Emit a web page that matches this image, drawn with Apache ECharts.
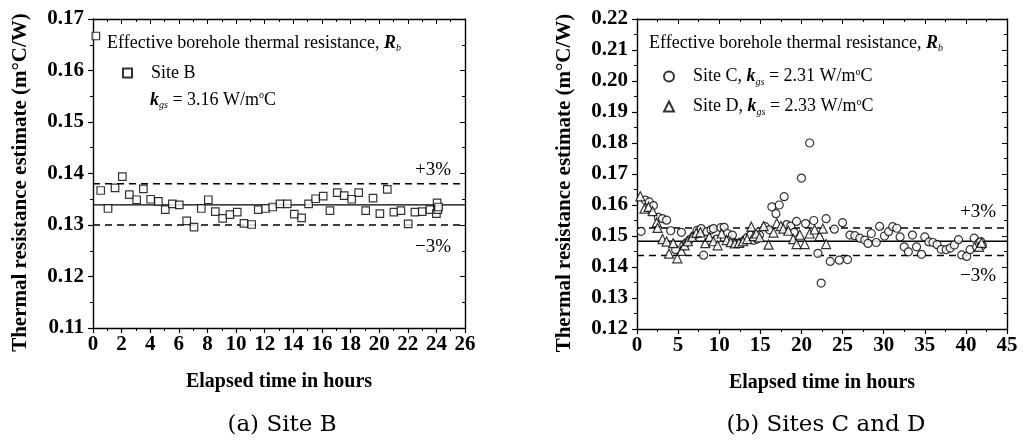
<!DOCTYPE html>
<html><head><meta charset="utf-8">
<script src="https://cdn.jsdelivr.net/npm/echarts@6/dist/echarts.min.js"></script>
<style>html,body{margin:0;padding:0;background:#fff}#c{width:1025px;height:441px}</style>
</head><body><div id="c"></div>
<script>
// ---- Data: panel (a) Site B ----
const bTime = [0.2,0.54,1.05,1.54,2.05,2.54,3.05,3.52,4.03,4.57,5.05,5.55,6.03,6.55,7.06,7.57,8.06,8.55,9.06,9.57,10.08,10.55,11.09,11.55,12.07,12.56,13.07,13.58,14.07,14.58,15.07,15.56,16.09,16.56,17.07,17.56,18.08,18.57,19.06,19.57,20.05,20.57,21.03,21.52,22.03,22.5,23.01,23.55,24.0,24.05,24.1,24.15];
const bRes  = [0.1667,0.1367,0.1332,0.1372,0.1394,0.1359,0.1349,0.1370,0.1350,0.1346,0.1330,0.1341,0.1339,0.1308,0.1296,0.1332,0.1349,0.1326,0.1313,0.1320,0.1325,0.1303,0.1301,0.1330,0.1332,0.1335,0.1341,0.1341,0.1321,0.1314,0.1341,0.1351,0.1356,0.1328,0.1363,0.1357,0.1350,0.1363,0.1328,0.1352,0.1322,0.1369,0.1325,0.1328,0.1302,0.1325,0.1326,0.1330,0.1322,0.1343,0.1330,0.1335];
const bRef = {mean:0.1339, plus:0.1380, minus:0.1300};

// ---- Data: panel (b) Site C ----
const cTime = [0.5,1.0,1.5,2.0,2.6,3.1,3.6,4.1,4.7,5.4,5.7,6.0,6.4,6.9,7.3,7.8,8.1,8.5,9.0,9.3,9.7,10.2,10.6,11.0,11.3,11.6,11.9,12.2,12.5,12.8,13.1,13.4,13.8,14.2,14.6,14.9,15.6,16.1,16.4,16.9,17.3,17.9,18.2,18.7,19.1,19.4,20.0,20.5,21.0,21.5,22.0,22.4,23.0,23.5,24.0,24.6,25.0,25.6,25.9,26.5,27.1,27.7,28.1,28.5,29.1,29.5,30.1,30.6,31.1,31.6,32.0,32.5,33.0,33.5,34.0,34.6,35.0,35.5,36.0,36.5,37.0,37.6,38.1,38.6,39.1,39.5,40.1,40.5,41.0,41.3,41.6,41.8,42.0];
const cRes  = [0.1515,0.1616,0.1610,0.1598,0.1560,0.1556,0.1551,0.1517,0.1456,0.1512,0.1470,0.1478,0.1488,0.1500,0.1518,0.1524,0.1438,0.1514,0.1520,0.1524,0.1490,0.1527,0.1528,0.1508,0.1488,0.1503,0.1478,0.1475,0.1477,0.1480,0.1487,0.1495,0.1503,0.1486,0.1490,0.1503,0.1530,0.1520,0.1594,0.1572,0.1600,0.1627,0.1537,0.1532,0.1512,0.1547,0.1687,0.1540,0.1800,0.1550,0.1444,0.1348,0.1556,0.1418,0.1522,0.1422,0.1543,0.1424,0.1503,0.1501,0.1493,0.1487,0.1476,0.1508,0.1479,0.1531,0.1500,0.1514,0.1530,0.1525,0.1497,0.1465,0.1449,0.1503,0.1465,0.1441,0.1497,0.1481,0.1479,0.1472,0.1457,0.1456,0.1461,0.1471,0.1488,0.1439,0.1434,0.1456,0.1493,0.1465,0.1478,0.1482,0.1470];

// ---- Data: panel (b) Site D ----
const dTime = [0.4,0.9,1.4,1.9,2.4,2.5,3.1,3.6,3.9,4.4,4.9,5.4,5.8,6.2,6.7,7.2,7.7,8.3,8.8,9.3,9.8,10.3,10.9,11.4,11.9,12.4,12.9,13.4,13.9,14.2,14.5,14.9,15.4,16.0,16.6,17.0,17.5,17.8,18.4,19.0,19.4,19.8,20.4,21.0,21.6,22.2,22.6,23.0,41.6,41.9];
const dRes  = [0.1628,0.1588,0.1594,0.1580,0.1544,0.1526,0.1490,0.1482,0.1443,0.1477,0.1428,0.1452,0.1470,0.1483,0.1497,0.1510,0.1512,0.1477,0.1497,0.1483,0.1470,0.1508,0.1487,0.1480,0.1476,0.1478,0.1483,0.1490,0.1530,0.1500,0.1508,0.1496,0.1532,0.1472,0.1511,0.1541,0.1532,0.1524,0.1517,0.1490,0.1474,0.1504,0.1474,0.1508,0.1521,0.1500,0.1524,0.1474,0.1465,0.1478];
const cdRef = {mean:0.1483, plus:0.1526, minus:0.1437};

const xRangeA = [0, 26, 2];
const yRangeA = [0.11, 0.17, 0.01];
const xRangeB = [0, 45, 5];
const yRangeB = [0.12, 0.22, 0.01];

const F = 'Liberation Serif, Times New Roman, serif';
const zip = (a, b) => a.map((v, i) => [v, b[i]]);

function xAxes(grid, r) {
  const base = {gridIndex: grid, min: r[0], max: r[1], interval: r[2], splitLine:{show:false},
    axisLine:{onZero:false, lineStyle:{color:'#000', width:1.4}},
    minorTick:{show:true, splitNumber:2, length:3, lineStyle:{color:'#000'}}};
  return [
    Object.assign({}, base, {position:'bottom', axisTick:{length:5, lineStyle:{color:'#000', width:1.2}},
      axisLabel:{color:'#000', fontSize:21, fontWeight:'bold', fontFamily:F, margin:6},
      name:'Elapsed time in hours', nameLocation:'middle', nameGap:44,
      nameTextStyle:{color:'#000', fontSize:20, fontWeight:'bold', fontFamily:F}}),
    Object.assign({}, base, {position:'top', axisTick:{inside:true, length:5, lineStyle:{color:'#000'}},
      axisLabel:{show:false}})
  ];
}
function yAxes(grid, r) {
  const base = {gridIndex: grid, min: r[0], max: r[1], interval: r[2], splitLine:{show:false},
    axisLine:{show:true, onZero:false, lineStyle:{color:'#000', width:1.4}},
    minorTick:{show:true, splitNumber:2, length:3, lineStyle:{color:'#000'}}};
  return [
    Object.assign({}, base, {position:'left', axisTick:{length:5, lineStyle:{color:'#000', width:1.2}},
      axisLabel:{color:'#000', fontSize:21, fontWeight:'bold', fontFamily:F, margin:9, formatter: v => v.toFixed(2)},
      name:'Thermal resistance estimate (m\u00B0C/W)', nameLocation:'middle', nameGap:62,
      nameTextStyle:{color:'#000', fontSize:21, fontWeight:'bold', fontFamily:F, padding:[0,18,0,0]}}),
    Object.assign({}, base, {position:'right', axisTick:{inside:true, length:5, lineStyle:{color:'#000'}},
      axisLabel:{show:false}})
  ];
}

function refLines(xi, yi, xr, ref) {
  const mk = (v, dashed) => ({type:'line', xAxisIndex:xi, yAxisIndex:yi, symbol:'none', silent:true,
    data:[[xr[0], v],[xr[1], v]], lineStyle:{color:'#000', width:1.4, type: dashed ? [7,5] : 'solid'}, z:1});
  return [mk(ref.mean, false), mk(ref.plus, true), mk(ref.minus, true)];
}

const hollow = {color:'#fff', borderColor:'#000', borderWidth:1.2};
const rich = {
  t:{fontSize:18, fontFamily:F, color:'#000'},
  i:{fontSize:18, fontFamily:F, color:'#000', fontStyle:'italic', fontWeight:'bold'},
  s:{fontSize:10, fontFamily:F, color:'#000', fontStyle:'italic', padding:[11,0,0,0]},
  u:{fontSize:10, fontFamily:F, color:'#000', padding:[0,0,9,0]}
};

const option = {
  animation:false,
  backgroundColor:'#fff',
  grid:[{left:93, top:19, width:372, height:309}, {left:637, top:19, width:370, height:310}],
  xAxis:[...xAxes(0, xRangeA), ...xAxes(1, xRangeB)],
  yAxis:[...yAxes(0, yRangeA), ...yAxes(1, yRangeB)],
  legend:[
    {left:117, top:59, itemWidth:9, itemHeight:9, data:['Site B'],
     textStyle:{color:'#000', fontSize:18, fontFamily:F, padding:[0,0,0,14]}},
    {left:658, top:62, orient:'vertical', itemGap:10, itemWidth:10, itemHeight:10, data:['Site C','Site D'],
     formatter: n => n === 'Site C'
        ? '{t|Site C, }{i|k}{s|gs}{t| = 2.31 W/m}{u|o}{t|C}'
        : '{t|Site D, }{i|k}{s|gs}{t| = 2.33 W/m}{u|o}{t|C}',
     textStyle:{color:'#000', fontSize:18, fontFamily:F, padding:[0,0,0,14], rich: rich}}
  ],
  series:[
    {name:'Site B', type:'scatter', xAxisIndex:0, yAxisIndex:0, symbol:'rect', symbolSize:7.5,
     itemStyle:hollow, data: zip(bTime, bRes), z:3},
    ...refLines(0, 0, [xRangeA[0], xRangeA[1]], bRef),
    {name:'Site C', type:'scatter', xAxisIndex:2, yAxisIndex:2, symbol:'circle', symbolSize:8,
     itemStyle:hollow, data: zip(cTime, cRes), z:3},
    {name:'Site D', type:'scatter', xAxisIndex:2, yAxisIndex:2, symbol:'triangle', symbolSize:9,
     itemStyle:hollow, data: zip(dTime, dRes), z:4},
    ...refLines(2, 2, [xRangeB[0], xRangeB[1]], cdRef)
  ],
  graphic:[
    {type:'text', x:107, y:43, style:{text:'{t|Effective borehole thermal resistance, }{i|R}{s|b}', rich:rich, verticalAlign:'middle'}},
    {type:'text', x:150, y:100, style:{text:'{i|k}{s|gs}{t| = 3.16 W/m}{u|o}{t|C}', rich:rich, verticalAlign:'middle'}},
    {type:'text', x:415, y:170, style:{text:'+3%', font:'19px '+F, fill:'#000', verticalAlign:'middle'}},
    {type:'text', x:415, y:247, style:{text:'\u22123%', font:'19px '+F, fill:'#000', verticalAlign:'middle'}},
    {type:'text', x:649, y:43, style:{text:'{t|Effective borehole thermal resistance, }{i|R}{s|b}', rich:rich, verticalAlign:'middle'}},
    {type:'text', x:960, y:212, style:{text:'+3%', font:'19px '+F, fill:'#000', verticalAlign:'middle'}},
    {type:'text', x:960, y:276, style:{text:'\u22123%', font:'19px '+F, fill:'#000', verticalAlign:'middle'}},
    {type:'text', x:282, y:425, style:{text:'(a) Site B', font:'23px DejaVu Serif', fill:'#000', align:'center', verticalAlign:'middle'}},
    {type:'text', x:826, y:425, style:{text:'(b) Sites C and D', font:'23px DejaVu Serif', fill:'#000', align:'center', verticalAlign:'middle'}}
  ]
};
echarts.init(document.getElementById('c')).setOption(option);
</script></body></html>
